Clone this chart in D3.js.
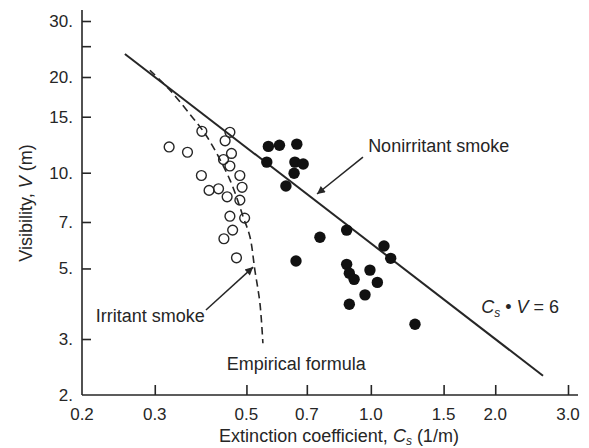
<!DOCTYPE html>
<html>
<head>
<meta charset="utf-8">
<script src="https://cdn.jsdelivr.net/npm/d3@7"></script>
<style>
  html, body { margin: 0; padding: 0; background: #fff; }
  svg { display: block; font-family: "Liberation Sans", Arial, Helvetica, sans-serif; }
</style>
</head>
<body>
<svg id="chart" width="589" height="448"></svg>
<script>
// Irritant smoke measurements: extinction coefficient Cs (1/m) and visibility V (m)
const irritantCs = [0.390, 0.456, 0.444, 0.325, 0.360, 0.460, 0.440, 0.456, 0.389, 0.482,
                    0.406, 0.428, 0.488, 0.449, 0.482, 0.456, 0.495, 0.463, 0.441, 0.473];
const irritantV  = [13.5, 13.4, 12.6, 12.05, 11.6, 11.5, 11.0, 10.5, 9.8, 9.8,
                    8.8, 8.9, 9.0, 8.4, 8.2, 7.3, 7.2, 6.6, 6.2, 5.4];

// Nonirritant smoke measurements
const nonirritantCs = [0.565, 0.601, 0.662, 0.560, 0.655, 0.686, 0.652, 0.623, 0.874, 0.753, 1.076,
                       1.117, 0.659, 0.874, 0.887, 0.911, 0.995, 1.037, 0.968, 0.887, 1.279];
const nonirritantV  = [12.1, 12.2, 12.3, 10.8, 10.8, 10.65, 9.96, 9.08, 6.6, 6.27, 5.88,
                       5.38, 5.28, 5.15, 4.83, 4.62, 4.94, 4.52, 4.13, 3.86, 3.34];

// Empirical formula curve for irritant smoke
const empiricalCs = [0.292, 0.330, 0.369, 0.401, 0.456, 0.491, 0.510, 0.524, 0.539, 0.548];
const empiricalV  = [21.0, 17.9, 15.0, 13.0, 9.5, 7.26, 6.28, 4.94, 3.89, 2.91];

// Cs · V = 6 relation, drawn between these extinction coefficients
const lawConstant = 6;
const lawCsRange = [0.254, 2.61];

// Axis ticks
const xTicks = [0.2, 0.3, 0.5, 0.7, 1.0, 1.5, 2.0, 3.0];
const xTickLabels = ["0.2", "0.3", "0.5", "0.7", "1.0", "1.5", "2.0", "3.0"];
const yTicks = [2, 3, 5, 7, 10, 15, 20, 25, 30];
const yTickLabels = ["2.", "3.", "5.", "7.", "10.", "15.", "20.", "", "30."];

const svg = d3.select("#chart");
const ink = "#262626";

const x = d3.scaleLog().domain([0.2, 3.0]).range([82, 568]);
const y = d3.scaleLog().domain([2, 30]).range([395, 21]);

// Arrow marker
svg.append("defs").append("marker")
  .attr("id", "arrowhead")
  .attr("viewBox", "0 0 10 10")
  .attr("refX", 10).attr("refY", 5)
  .attr("markerWidth", 11).attr("markerHeight", 8)
  .attr("markerUnits", "userSpaceOnUse")
  .attr("orient", "auto")
  .append("path").attr("d", "M0,0 L10,5 L0,10 Z").attr("fill", ink);

// Axis lines
const axisG = svg.append("g").attr("stroke", ink).attr("stroke-width", 1.6);
axisG.append("line").attr("x1", x(0.2)).attr("x2", x(0.2)).attr("y1", y(2)).attr("y2", 10);
axisG.append("line").attr("x1", x(0.2)).attr("x2", 578).attr("y1", y(2)).attr("y2", y(2));

// Inward ticks
const xAxis = d3.axisTop(x).tickValues(xTicks.slice(1)).tickSize(10).tickFormat("");
const gx = svg.append("g").attr("transform", `translate(0,${y(2)})`).call(xAxis);
const yAxis = d3.axisRight(y).tickValues(yTicks.slice(1)).tickSize(9).tickFormat("");
const gy = svg.append("g").attr("transform", `translate(${x(0.2)},0)`).call(yAxis);
[gx, gy].forEach(g => {
  g.select(".domain").remove();
  g.selectAll(".tick line").attr("stroke", ink).attr("stroke-width", 1.6);
});

// Tick labels
svg.append("g").selectAll("text").data(xTicks).join("text")
  .attr("x", d => x(d)).attr("y", 420)
  .attr("text-anchor", "middle").attr("font-size", 17).attr("fill", ink)
  .text((d, i) => xTickLabels[i]);
svg.append("g").selectAll("text").data(yTicks).join("text")
  .attr("x", 73).attr("y", d => y(d)).attr("dy", "0.35em")
  .attr("text-anchor", "end").attr("font-size", 17).attr("fill", ink)
  .text((d, i) => yTickLabels[i]);

// Axis titles
const xt = svg.append("text").attr("x", 339).attr("y", 441.5)
  .attr("text-anchor", "middle").attr("font-size", 18).attr("fill", ink);
xt.append("tspan").text("Extinction coefficient, ");
xt.append("tspan").attr("font-style", "italic").text("C");
xt.append("tspan").attr("font-style", "italic").attr("font-size", 12).attr("dy", 3).text("s");
xt.append("tspan").attr("dy", -3).text(" (1/m)");

const yt = svg.append("text").attr("transform", "translate(32,203) rotate(-90)")
  .attr("text-anchor", "middle").attr("font-size", 18).attr("fill", ink);
yt.append("tspan").text("Visibility, ");
yt.append("tspan").attr("font-style", "italic").text("V");
yt.append("tspan").text(" (m)");

// Cs · V = 6 line
const lawPts = lawCsRange.map(c => [c, lawConstant / c]);
svg.append("path")
  .attr("d", d3.line().x(d => x(d[0])).y(d => y(d[1]))(lawPts))
  .attr("fill", "none").attr("stroke", ink).attr("stroke-width", 2);

// Empirical formula (dashed)
const empPts = empiricalCs.map((c, i) => [c, empiricalV[i]]);
svg.append("path")
  .attr("d", d3.line().curve(d3.curveCatmullRom).x(d => x(d[0])).y(d => y(d[1]))(empPts))
  .attr("fill", "none").attr("stroke", ink).attr("stroke-width", 1.6)
  .attr("stroke-dasharray", "7.5,4.5");

// Irritant smoke: open circles
svg.append("g").selectAll("circle").data(irritantCs).join("circle")
  .attr("cx", d => x(d)).attr("cy", (d, i) => y(irritantV[i])).attr("r", 4.9)
  .attr("fill", "none").attr("stroke", ink).attr("stroke-width", 1.4);

// Nonirritant smoke: filled circles
svg.append("g").selectAll("circle").data(nonirritantCs).join("circle")
  .attr("cx", d => x(d)).attr("cy", (d, i) => y(nonirritantV[i])).attr("r", 5.7)
  .attr("fill", "#111");

// Annotation arrows
const arrows = [
  { from: [0.957, 11.2], to: [0.741, 8.57] },
  { from: [0.399, 3.70], to: [0.519, 5.05] }
];
svg.append("g").selectAll("line").data(arrows).join("line")
  .attr("x1", d => x(d.from[0])).attr("y1", d => y(d.from[1]))
  .attr("x2", d => x(d.to[0])).attr("y2", d => y(d.to[1]))
  .attr("stroke", ink).attr("stroke-width", 1.5)
  .attr("marker-end", "url(#arrowhead)");

// Annotation labels
const notes = [
  { c: 0.985, v: 11.65, text: "Nonirritant smoke" },
  { c: 0.216, v: 3.40, text: "Irritant smoke" },
  { c: 0.448, v: 2.40, text: "Empirical formula" }
];
svg.append("g").selectAll("text").data(notes).join("text")
  .attr("x", d => x(d.c)).attr("y", d => y(d.v))
  .attr("font-size", 18).attr("fill", ink)
  .text(d => d.text);

const eq = svg.append("text").attr("x", x(1.85)).attr("y", y(3.62))
  .attr("font-size", 18).attr("fill", ink);
eq.append("tspan").attr("font-style", "italic").text("C");
eq.append("tspan").attr("font-style", "italic").attr("font-size", 12).attr("dy", 4).text("s");
eq.append("tspan").attr("dy", -4).text(" \u2022 ");
eq.append("tspan").attr("font-style", "italic").text("V");
eq.append("tspan").text(" = " + lawConstant);
</script>
</body>
</html>
